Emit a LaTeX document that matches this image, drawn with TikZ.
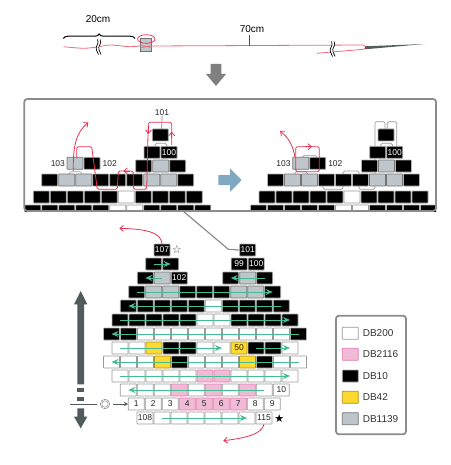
\documentclass[tikz,border=0pt]{standalone}
\usepackage{fontspec}
\setmainfont{Liberation Sans}
\newfontfamily\symfont{DejaVu Sans}
\usetikzlibrary{arrows.meta,positioning,decorations.pathreplacing}
\definecolor{threadred}{HTML}{E8304F}
\definecolor{threadpink}{HTML}{F0687E}
\definecolor{beadgreen}{HTML}{45BD92}
\definecolor{panelgray}{HTML}{8C8C8C}
\definecolor{slatebar}{HTML}{515B5D}
\definecolor{steelblue}{HTML}{7FA9C2}
\definecolor{bluegray}{HTML}{BEC6CC}
\definecolor{beadpink}{HTML}{EFBBD6}
\definecolor{pinkedge}{HTML}{E87CB0}
\definecolor{beadyellow}{HTML}{FFD92E}
\definecolor{yellowedge}{HTML}{A89020}
\definecolor{needlegray}{HTML}{4F5F58}
\newcommand{\beadrow}[4]{\foreach \c [count=\k from 0] in {#4} {\node[\c] (#1-\k) at ({#2+17*\k},#3) {};}}

\begin{document}
\begin{tikzpicture}[
  x=1pt, y=-1pt, >={Straight Barb[length=3.5pt,width=6pt]},
  font=\fontsize{10}{12}\selectfont,
  bead/.style={rectangle, rounded corners=0.5pt, minimum width=16pt, minimum height=12pt, inner sep=0pt, line width=0.7pt},
  db200/.style={bead, draw=black!40, fill=white},
  db2116/.style={bead, draw=pinkedge, fill=beadpink},
  db10/.style={bead, draw=black!30, fill=black},
  db42/.style={bead, draw=yellowedge, fill=beadyellow},
  db1139/.style={bead, draw=black!55, fill=bluegray},
  num/.style={font=\fontsize{8.5}{10}\selectfont, inner sep=0pt, text=black!85},
  numw/.style={num, text=white},
  tag/.style={font=\fontsize{8.5}{10}\selectfont, inner sep=0pt, text=black!85},
  panel/.style={rectangle, draw=panelgray, line width=1.8pt, rounded corners=3pt, inner sep=0pt},
  redline/.style={threadred, line width=0.8pt, rounded corners=1.5pt},
  grayline/.style={black!40, line width=0.7pt, rounded corners=1.5pt},
  pass/.style={-{Stealth[length=7pt,width=6pt]}, beadgreen, line width=1pt},
  threadline/.style={threadpink, line width=0.8pt},
  wavy/.style={black, line width=0.7pt},
]
  \useasboundingbox (0,0) rectangle (450,465);

  \draw[threadline] plot[smooth] coordinates {(63.3,46.7) (83.3,48.3) (97,47) (110,45) (130,46.7) (141.7,45.7)};
  \node[db1139, minimum width=11pt, minimum height=13pt, rounded corners=0pt] (spool) at (146.3,44.5) {};
  \draw[threadline] (141.7,45.7) -- (151.7,47.5);
  \draw[threadline] (141.7,47.5) -- (151.7,45.7);
  \draw[threadred, line width=0.7pt] (146.3,39) ellipse (8.7 and 4.3);
  \draw[threadline] (151.7,46) -- (363.3,45) -- (366.7,47.7);
  \draw[threadline] (316.7,53.3) -- (363.3,49.3) -- (366.7,47.7);
  \fill[needlegray] (365,46.3) -- (424.5,44) -- (365,49.3) -- cycle;
  \foreach \bx/\by in {98/47,332/49} {
    \fill[white] (\bx-1,\by-7) rectangle (\bx+2,\by+7);
    \foreach \dx in {-1,1.6} {
      \draw[wavy] (\bx+\dx+0.5,\by-7.5) .. controls (\bx+\dx+3,\by-3) and (\bx+\dx-2.5,\by-1) .. (\bx+\dx-0.5,\by+3) .. controls (\bx+\dx+0.5,\by+5) and (\bx+\dx+1,\by+6) .. (\bx+\dx+1.5,\by+7.5);
    }
  }
  \draw[decorate, decoration={brace, amplitude=4.5pt}, line width=1pt] (63.3,38.5) -- (135,38.5);
  \node (len20) at (98,19) {20cm};
  \node (len70) at (252,29) {70cm};
  \coordinate (thread70) at (249.3,46);
  \draw[black!70, line width=0.5pt] (249.3,35) -- (thread70);
  \fill[black!50] (210.7,64) -- (221.3,64) -- (221.3,74) -- (226,74) -- (216,86) -- (206,74) -- (210.7,74) -- cycle;

  \begin{scope}
    \clip (24.3,99) rectangle (436,211);
    \foreach \grp/\dx in {L/0,R/225.7} {
      \begin{scope}[xshift=\dx pt]
        \draw[grayline] (69.3,175) -- (69.3,171.7) -- (81.7,171.7) -- (81.7,175);
        \draw[grayline] (155,147) -- (155,143.3) -- (166.7,143.3) -- (166.7,147);
      \end{scope}
    }
    \node[tag] (lab101) at (162,112.3) {101};
    \draw[black!50, line width=0.7pt] (lab101) -- (161.7,135);
    \draw[grayline] (323,178) -- (323,189.3) -- (343,189.3) -- (343,171) -- (359,171) -- (359,189.3) -- (375,189.3) -- (375,121.7) -- (385,121.7) -- (385,135);
    \draw[grayline] (387.3,135) -- (387.3,121.7) -- (396.7,121.7) -- (396.7,147);
    \draw[grayline] (302.3,161) -- (302.3,155.7) -- (317,155.7) -- (317,161);
    \foreach \grp/\dx in {L/0,R/225.7} {
      \begin{scope}[xshift=\dx pt]
        \beadrow{\grp a}{160.3}{135}{db10}
        \beadrow{\grp b}{152}{152.3}{db10,db10}
        \beadrow{\grp c}{143.7}{166}{db10,db1139,db10}
        \beadrow{\grp e}{75}{163.3}{db1139,db10}
        \beadrow{\grp d}{49.7}{180}{db10,db1139,db1139,db10,db10,db10,db1139,db1139,db10}
        \beadrow{\grp f}{41.3}{197}{db10,db10,db10,db10,db10,db200,db10,db10,db10,db10}
        \beadrow{\grp g}{32.8}{211}{db10,db10,db10,db10,db10,db200,db200,db10,db10,db10,db10}
        \node[numw] (\grp n100) at (\grp b-1) {100};
        \node[tag, left=1.5pt of \grp e-0] (\grp n103) {103};
        \node[tag, right=2pt of \grp e-1] (\grp n102) {102};
      \end{scope}
    }
    \draw[redline] (76.7,158.3) -- (76.7,146.7) -- (91.7,146.7) -- (97.3,189.3) -- (117.3,189.3) -- (118.3,171) -- (133.3,171) -- (133.3,189.3) -- (146.7,189.3) -- (148.3,122.3) -- (171.7,122.3) -- (171.7,145);
    \draw[redline, ->] (130,171) -- (123.3,171);
    \draw[redline, ->] (148.6,126) -- (148.3,134);
    \draw[redline, ->] (171.7,138) -- (171.7,131.7);
    \draw[redline, ->] (73.3,171) .. controls (73,145) and (76,133) .. (88.3,122.3);
    \draw[redline] (295.7,146.7) rectangle (319.3,171.7);
    \draw[redline, ->] (305,146.7) -- (312,146.7);
    \draw[redline, ->] (295,157) .. controls (293,146) and (289,138) .. (280,131);
  \end{scope}
  \node[panel, minimum width=411.7pt, minimum height=112pt] (zoombox) at (230.15,155) {};
  \fill[steelblue] (218.3,175) -- (230,175) -- (230,168.3) -- (241.7,180) -- (230,192) -- (230,185) -- (218.3,185) -- cycle;

  \beadrow{rA}{162}{250}{db10}
  \beadrow{rB}{247.7}{250}{db10}
  \beadrow{sA}{153.7}{264}{db10,db10}
  \beadrow{sB}{239.2}{264}{db10,db10}
  \beadrow{tA}{145.3}{278}{db10,db1139,db10}
  \beadrow{tB}{230.7}{278}{db10,db1139,db10}
  \beadrow{u}{136.7}{292}{db10,db1139,db1139,db10,db10,db10,db1139,db1139,db10}
  \beadrow{v}{128.3}{306}{db10,db10,db10,db10,db10,db200,db10,db10,db10,db10}
  \beadrow{w}{120}{320}{db10,db10,db10,db10,db10,db200,db200,db10,db10,db10,db10}
  \beadrow{m}{111.5}{334}{db10,db10,db200,db200,db200,db200,db200,db200,db200,db200,db200,db10}
  \beadrow{n}{120}{348}{db200,db200,db42,db10,db10,db200,db200,db42,db10,db10,db200}
  \beadrow{o}{111.5}{362}{db200,db200,db200,db42,db10,db200,db200,db200,db42,db10,db200,db200}
  \beadrow{p}{120}{376}{db200,db200,db200,db200,db200,db2116,db2116,db200,db200,db200,db200}
  \beadrow{q}{128.3}{390}{db200,db200,db200,db2116,db200,db2116,db200,db2116,db200,db200}
  \beadrow{s}{136.3}{404}{db200,db200,db200,db2116,db2116,db2116,db2116,db200,db200}
  \beadrow{e}{145}{418}{db200,db200,db200,db200,db200,db200,db200,db200}

  \foreach \a/\b in {sA-0/sA-1,tA-1/tA-0,tB-2/tB-0,u-0/u-8,v-9/v-0,w-0/w-10,m-11/m-0,n-0/n-6,n-8/n-10,o-11/o-0,p-0/p-10,q-8/q-0,e-1/e-6} {\draw[pass] (\a.center) -- (\b.center);}

  \foreach \b/\t in {rA-0/107,rB-0/101,sB-0/99,sB-1/100,tA-2/102} {\node[numw] (lab\t) at (\b) {\t};}
  \foreach \b/\t in {n-7/50,q-9/10,s-0/1,s-1/2,s-2/3,s-3/4,s-4/5,s-5/6,s-6/7,s-7/8,s-8/9,e-0/108,e-7/115} {\node[num] (lab\t) at (\b) {\t};}
  \node[inner sep=0pt, font=\symfont\fontsize{11}{12}\selectfont, text=black!70] (open) at (176.7,249.3) {☆};
  \node[inner sep=0pt, font=\symfont\fontsize{11}{12}\selectfont] (solid) at (279.3,418.7) {★};

  \coordinate (foot) at (183,211);
  \coordinate (knee) at (228.3,249.3);
  \draw[panelgray, line width=1.2pt] (foot) -- (knee) -- (rB-0.west);
  \draw[threadred, line width=0.8pt, ->] (rA-0.north) .. controls (161,232) and (145,229) .. (119.3,228.3);
  \draw[threadred, line width=0.8pt, ->] (e-7.south) .. controls (262,434) and (246,438) .. (223.3,440.7);

  \fill[slatebar] (77.3,384.3) -- (77.3,304.3) -- (74,304.3) -- (80.7,291) -- (87.3,304.3) -- (84,304.3) -- (84,384.3) -- cycle;
  \fill[slatebar] (77.3,388.3) rectangle (84,392.3);
  \fill[slatebar] (77.3,396.7) rectangle (84,401);
  \fill[slatebar] (77.3,408.3) -- (84,408.3) -- (84,416.7) -- (87.3,416.7) -- (80.7,428.3) -- (74,416.7) -- (77.3,416.7) -- cycle;
  \node[circle, draw=black!55, double=white, double distance=0.8pt, line width=0.5pt, minimum size=8pt, inner sep=0pt] (start) at (105,404) {};
  \coordinate (rule) at (70,404);
  \draw[slatebar, line width=0.9pt] (rule) -- (97.3,404);
  \draw[-{Stealth[length=4pt,width=4.5pt]}, slatebar, line width=0.9pt, shorten <=4pt] (start.east) -- (s-0.west);

  \node[panel, minimum width=70pt, minimum height=118.6pt] (legend) at (371,375) {};
  \foreach \c/\t/\y in {db200/DB200/333.3, db2116/DB2116/354.3, db10/DB10/376, db42/DB42/397.3, db1139/DB1139/418.7} {
    \node[\c] (sw\t) at (350.3,\y) {};
    \node[right=4pt of sw\t, inner sep=0pt, text=black!80] (tx\t) {\t};
  }
\end{tikzpicture}
\end{document}
